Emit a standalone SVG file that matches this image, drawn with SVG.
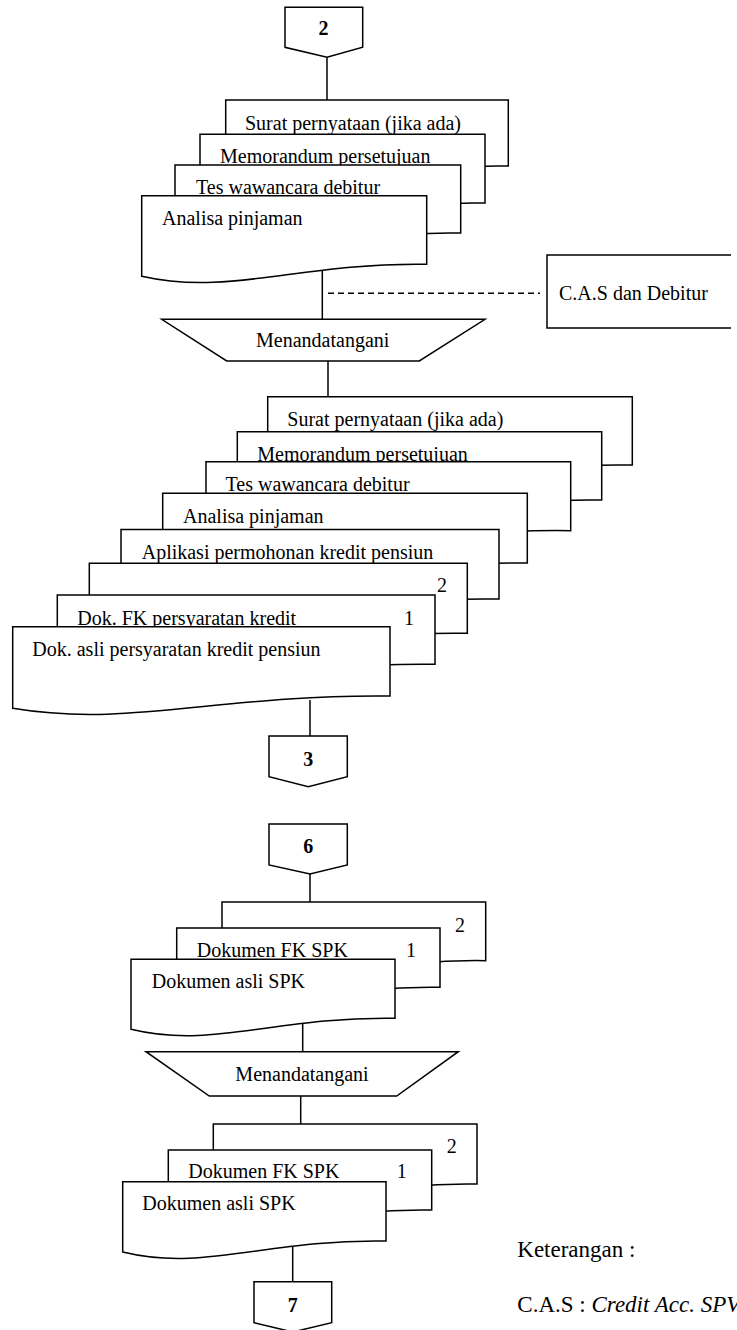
<svg xmlns="http://www.w3.org/2000/svg" width="737" height="1330" viewBox="0 0 737 1330" font-family="'Liberation Serif', 'DejaVu Serif', serif" font-size="20">
  <style>
    .shape { fill: #fff; stroke: #000; stroke-width: 1.5; stroke-linejoin: miter; }
    .line { fill: none; stroke: #000; stroke-width: 1.5; }
    .dash { fill: none; stroke: #000; stroke-width: 1.5; stroke-dasharray: 6 4; }
    text { font-family: 'Liberation Serif', 'DejaVu Serif', serif; font-size: 20px; fill: #000; }
    .num { font-weight: bold; text-anchor: middle; }
    .mid { text-anchor: middle; }
    .it { font-style: italic; }
    .legend { font-size: 23px; }
  </style>

  <rect width="737" height="1330" fill="#fff"/>

  <!-- connectors (drawn underneath the shapes) -->
  <g id="connectors">
    <line class="line" x1="327" y1="57" x2="327" y2="101"/>
    <line class="line" x1="322.3" y1="265" x2="322.3" y2="319.3"/>
    <line class="dash" x1="328" y1="293.3" x2="540" y2="293.3"/>
    <line class="line" x1="328" y1="361" x2="328" y2="397"/>
    <line class="line" x1="310" y1="700" x2="310" y2="736"/>
    <line class="line" x1="310" y1="874" x2="310" y2="902"/>
    <line class="line" x1="302.7" y1="1020" x2="302.7" y2="1051.7"/>
    <line class="line" x1="300.7" y1="1096" x2="300.7" y2="1124"/>
    <line class="line" x1="292.7" y1="1245" x2="292.7" y2="1281.7"/>
  </g>

  <!-- off-page connector 2 -->
  <g id="conn-2">
    <path class="shape" d="M285,7.3 H362.7 V47.3 L327,57.3 L285,47.3 Z"/>
    <text class="num" x="323.5" y="35">2</text>
  </g>

  <!-- first document stack -->
  <g id="s1-surat">
    <path class="shape" d="M225.7,100 H508.3 V166 C381,164 313,198 225.7,178 Z"/>
    <text x="245" y="130">Surat pernyataan (jika ada)</text>
  </g>
  <g id="s1-memo">
    <path class="shape" d="M200,134.3 H485 V203 C357,201 288,235 200,215 Z"/>
    <text x="220" y="162.5">Memorandum persetujuan</text>
  </g>
  <g id="s1-tes">
    <path class="shape" d="M175,165 H460.7 V233 C332,231 264,265 175,245 Z"/>
    <text x="196" y="194">Tes wawancara debitur</text>
  </g>
  <g id="s1-analisa">
    <path class="shape" d="M141.7,195.7 H426.7 V264.3 C299,262.3 230,296.3 141.7,276.3 Z"/>
    <text x="162" y="225">Analisa pinjaman</text>
  </g>

  <!-- external party -->
  <g id="cas-debitur">
    <path class="line" d="M731,255 H547 V328 H731"/>
    <text x="559" y="300">C.A.S dan Debitur</text>
  </g>

  <!-- manual operation 1 -->
  <g id="sign-1">
    <path class="shape" d="M161.7,319.3 H485 L419.3,361 H226.7 Z"/>
    <text class="mid" x="322.7" y="346.7">Menandatangani</text>
  </g>

  <!-- second document stack -->
  <g id="s2-surat">
    <path class="shape" d="M267.7,396.7 H632.3 V465 C468,463 381,497 267.7,477 Z"/>
    <text x="287.3" y="426">Surat pernyataan (jika ada)</text>
  </g>
  <g id="s2-memo">
    <path class="shape" d="M237.3,431.7 H601.7 V500 C438,498 350,532 237.3,512 Z"/>
    <text x="257.3" y="461">Memorandum persetujuan</text>
  </g>
  <g id="s2-tes">
    <path class="shape" d="M206,461.7 H570.7 V530.7 C407,528.7 319,562.7 206,542.7 Z"/>
    <text x="225.5" y="491">Tes wawancara debitur</text>
  </g>
  <g id="s2-analisa">
    <path class="shape" d="M162.7,493.3 H527.3 V563 C363,561 276,595 162.7,575 Z"/>
    <text x="183" y="523">Analisa pinjaman</text>
  </g>
  <g id="s2-aplikasi">
    <path class="shape" d="M121,529.5 H499 V599 C329,597 238,631 121,611 Z"/>
    <text x="141.7" y="559">Aplikasi permohonan kredit pensiun</text>
  </g>
  <g id="s2-copy2">
    <path class="shape" d="M89.3,563.3 H467.3 V633.3 C297,631.3 206,665.3 89.3,645.3 Z"/>
    <text x="437" y="591.7">2</text>
  </g>
  <g id="s2-dok-fk">
    <path class="shape" d="M57.3,595 H435 V664.3 C265,662.3 174,696.3 57.3,676.3 Z"/>
    <text x="77.3" y="625">Dok. FK persyaratan kredit</text>
    <text x="404" y="625">1</text>
  </g>
  <g id="s2-dok-asli">
    <path class="shape" d="M12.7,626.7 H390 V696 C220,694 130,728 12.7,708.3 Z"/>
    <text x="32.3" y="656">Dok. asli persyaratan kredit pensiun</text>
  </g>

  <!-- off-page connectors 3 and 6 -->
  <g id="conn-3">
    <path class="shape" d="M269,736 H347.3 V776.7 L308.3,786.7 L269,776.7 Z"/>
    <text class="num" x="308.3" y="766">3</text>
  </g>
  <g id="conn-6">
    <path class="shape" d="M269,824 H347.3 V865 L310,874 L269,865 Z"/>
    <text class="num" x="308.3" y="853">6</text>
  </g>

  <!-- third document stack -->
  <g id="s3-copy2">
    <path class="shape" d="M222,902 H485.7 V960.7 C367,958.7 304,992.7 222,972.7 Z"/>
    <text x="455" y="931.7">2</text>
  </g>
  <g id="s3-dok-fk">
    <path class="shape" d="M176.7,928 H440 V987.3 C321,985.3 258,1019.3 176.7,999.3 Z"/>
    <text x="196.7" y="956.7">Dokumen FK SPK</text>
    <text x="406" y="956.7">1</text>
  </g>
  <g id="s3-dok-asli">
    <path class="shape" d="M131,959.3 H395 V1018.3 C276,1016.3 213,1049.3 131,1029.3 Z"/>
    <text x="151.7" y="988.3">Dokumen asli SPK</text>
  </g>

  <!-- manual operation 2 -->
  <g id="sign-2">
    <path class="shape" d="M146,1051.7 H458.3 L396.7,1096 H209.3 Z"/>
    <text class="mid" x="302" y="1081">Menandatangani</text>
  </g>

  <!-- fourth document stack -->
  <g id="s4-copy2">
    <path class="shape" d="M213.3,1124 H477 V1184 C358,1182 295,1216 213.3,1196 Z"/>
    <text x="446.7" y="1153.3">2</text>
  </g>
  <g id="s4-dok-fk">
    <path class="shape" d="M168.3,1150 H431.7 V1210 C313,1208 250,1242 168.3,1222 Z"/>
    <text x="188.3" y="1178.3">Dokumen FK SPK</text>
    <text x="396.7" y="1178.3">1</text>
  </g>
  <g id="s4-dok-asli">
    <path class="shape" d="M122.7,1181.7 H386 V1241 C267,1239 204,1272 122.7,1252 Z"/>
    <text x="142.3" y="1210">Dokumen asli SPK</text>
  </g>

  <!-- off-page connector 7 -->
  <g id="conn-7">
    <path class="shape" d="M254,1281.7 H331.7 V1322.7 L292.7,1332 L254,1322.7 Z"/>
    <text class="num" x="292.7" y="1311.7">7</text>
  </g>

  <!-- legend -->
  <g id="legend">
    <text class="legend" x="517.3" y="1256.7">Keterangan :</text>
    <text class="legend" x="517.3" y="1311.7">C.A.S : <tspan class="it">Credit Acc. SPV</tspan></text>
  </g>
</svg>
